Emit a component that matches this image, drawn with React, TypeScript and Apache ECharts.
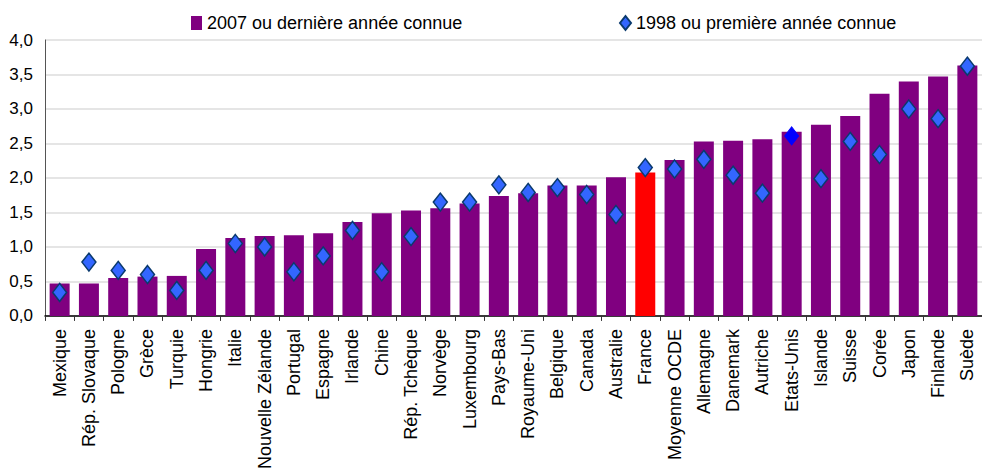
import React, { useEffect, useRef } from "react";
import * as echarts from "echarts";

const categories = [
  "Mexique", "Rép. Slovaque", "Pologne", "Grèce", "Turquie", "Hongrie", "Italie",
  "Nouvelle Zélande", "Portugal", "Espagne", "Irlande", "Chine", "Rép. Tchèque",
  "Norvège", "Luxembourg", "Pays-Bas", "Royaume-Uni", "Belgique", "Canada",
  "Australie", "France", "Moyenne OCDE", "Allemagne", "Danemark", "Autriche",
  "Etats-Unis", "Islande", "Suisse", "Corée", "Japon", "Finlande", "Suède",
];

const values2007 = [
  0.47, 0.47, 0.55, 0.57, 0.58, 0.97, 1.13, 1.16, 1.17, 1.2, 1.36, 1.49, 1.53,
  1.56, 1.63, 1.74, 1.78, 1.89, 1.89, 2.01, 2.08, 2.26, 2.53, 2.54, 2.56, 2.67,
  2.77, 2.9, 3.22, 3.4, 3.47, 3.63,
];

const values1998 = [
  0.34, 0.78, 0.66, 0.6, 0.37, 0.66, 1.05, 1.0, 0.64, 0.87, 1.24, 0.64, 1.15,
  1.65, 1.65, 1.9, 1.79, 1.86, 1.76, 1.47, 2.15, 2.13, 2.27, 2.04, 1.78, 2.61,
  1.99, 2.53, 2.34, 3.0, 2.86, 3.62,
];

const yTicks = { min: 0, max: 4, interval: 0.5 };
const highlightBar = "France";
const highlightDiamond = "Etats-Unis";
const seriesNames = ["2007 ou dernière année connue", "1998 ou première année connue"];

const FONT = "'Liberation Sans', Arial, sans-serif";

export default function App() {
  const ref = useRef<HTMLDivElement>(null);
  useEffect(() => {
    if (!ref.current) return;
    const chart = echarts.init(ref.current, null, { renderer: "svg" });
    chart.setOption({
      animation: false,
      textStyle: { fontFamily: FONT },
      legend: [
        {
          data: [seriesNames[0]],
          left: 186,
          top: 9,
          icon: "rect",
          itemWidth: 11,
          itemHeight: 14,
          textStyle: { fontSize: 18, color: "#000", fontFamily: FONT },
        },
        {
          data: [seriesNames[1]],
          left: 614,
          top: 9,
          icon: "diamond",
          itemWidth: 11,
          itemHeight: 14,
          textStyle: { fontSize: 18, color: "#000", fontFamily: FONT },
        },
      ],
      grid: { left: 45, top: 40, width: 947, height: 278 },
      xAxis: {
        type: "category",
        data: categories,
        axisLine: { show: true, lineStyle: { color: "#000", width: 1.5 } },
        axisTick: { show: true, length: 5, lineStyle: { color: "#333" } },
        axisLabel: {
          interval: 0,
          rotate: 90,
          margin: 13,
          fontSize: 18,
          color: "#000",
          fontFamily: FONT,
        },
        splitLine: { show: false },
      },
      yAxis: {
        type: "value",
        min: yTicks.min,
        max: yTicks.max,
        interval: yTicks.interval,
        axisLine: { show: true, lineStyle: { color: "#555", width: 1 } },
        axisTick: { show: false },
        axisLabel: {
          margin: 12,
          fontSize: 17,
          color: "#000",
          fontFamily: FONT,
          formatter: (v: number) => v.toFixed(1).replace(".", ","),
        },
        splitLine: { show: true, lineStyle: { color: "#dcdcdc", width: 1.5 } },
      },
      series: [
        {
          name: seriesNames[0],
          type: "bar",
          barWidth: 20,
          itemStyle: { color: "#800080" },
          data: values2007.map((v, i) =>
            categories[i] === highlightBar ? { value: v, itemStyle: { color: "#ff0000" } } : v
          ),
          z: 2,
        },
        {
          name: seriesNames[1],
          type: "scatter",
          symbol: "diamond",
          symbolSize: [14, 18],
          itemStyle: { color: "#3366ff", borderColor: "#0a3a6e", borderWidth: 1.5, opacity: 1 },
          data: values1998.map((v, i) =>
            categories[i] === highlightDiamond
              ? { value: v, itemStyle: { color: "#0000ff", borderColor: "#0000ff", borderWidth: 1, opacity: 1 } }
              : v
          ),
          z: 3,
        },
      ],
    });
    return () => chart.dispose();
  }, []);
  return (
    <div
      ref={ref}
      style={{ position: "fixed", left: 0, top: 0, width: 982, height: 472, background: "#fff" }}
    />
  );
}
